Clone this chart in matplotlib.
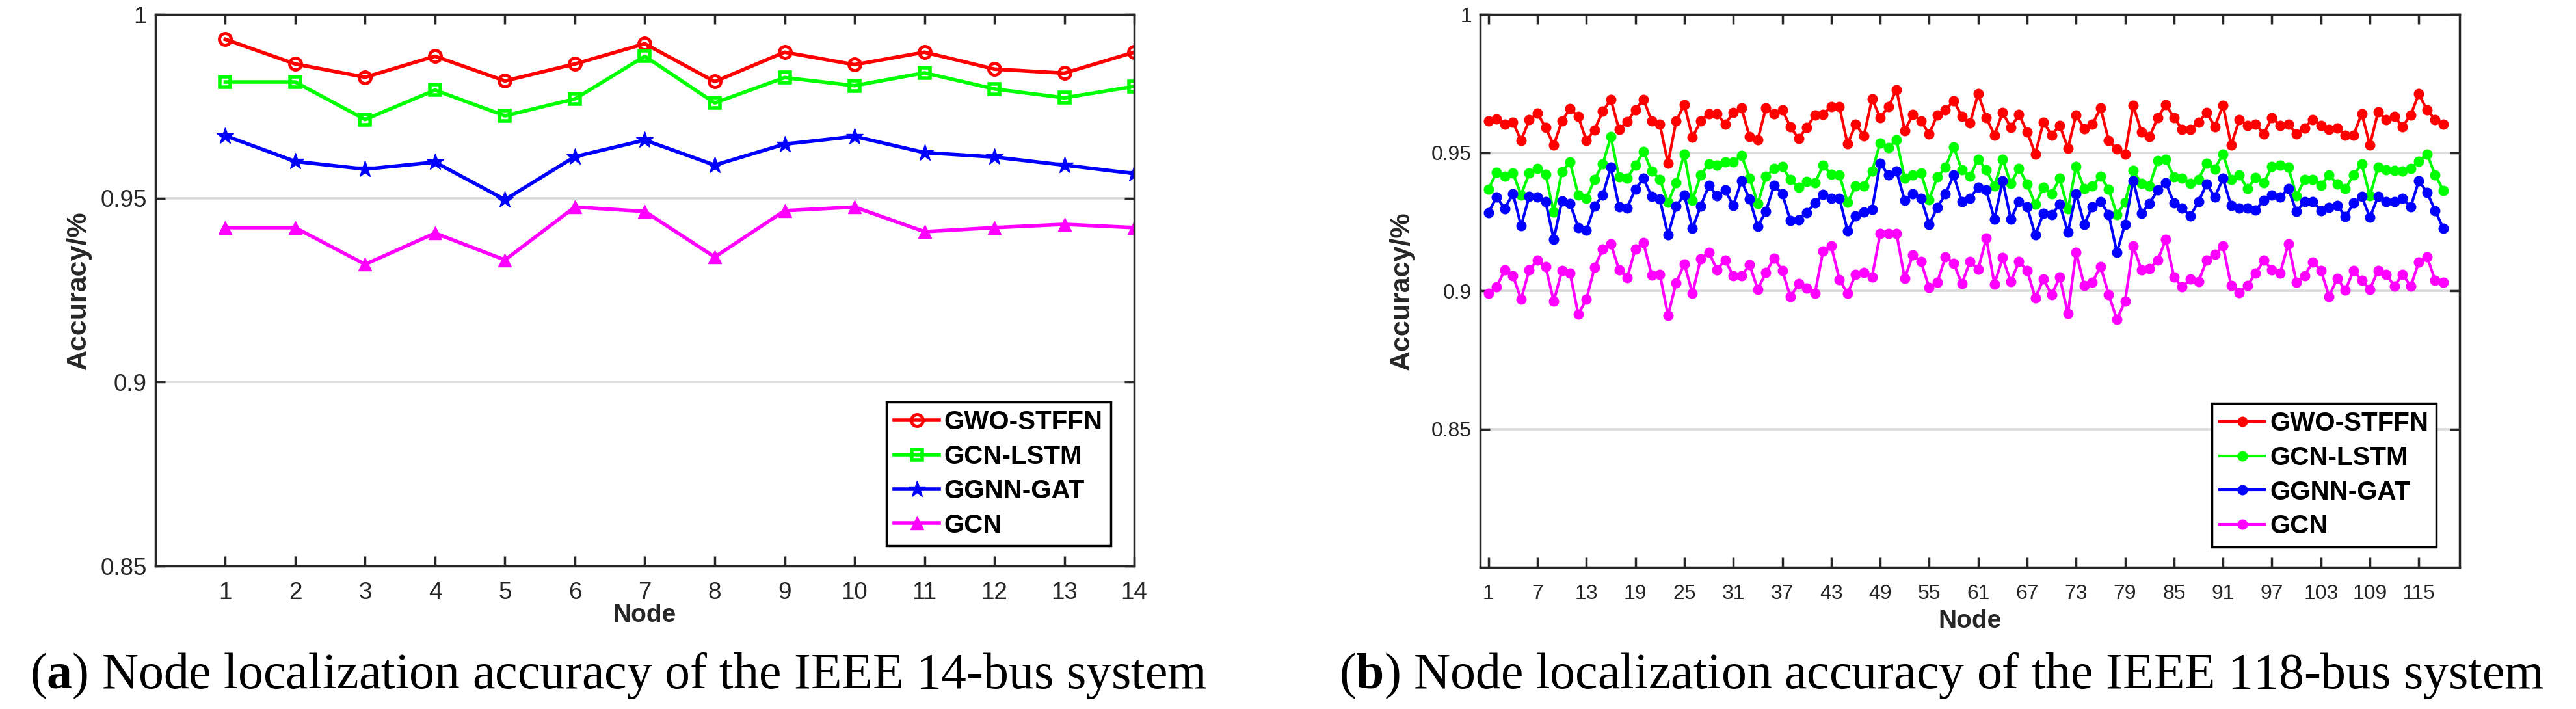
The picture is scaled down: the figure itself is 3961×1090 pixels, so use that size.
import numpy as np
import matplotlib
matplotlib.use("Agg")
import matplotlib.pyplot as plt

plt.rcParams['font.family'] = ['Liberation Sans', 'DejaVu Sans']
plt.rcParams['mathtext.fontset'] = 'custom'
plt.rcParams['mathtext.rm'] = 'Liberation Serif'
plt.rcParams['mathtext.bf'] = 'Liberation Serif:bold'

methods = ["GWO-STFFN", "GCN-LSTM", "GGNN-GAT", "GCN"]
colors = ["#ff0000", "#00ff00", "#0000ff", "#ff00ff"]

# IEEE 14-bus system
nodes14 = np.arange(1, 15)
gwo14 = [0.9932, 0.9865, 0.9829, 0.9886, 0.9819, 0.9865, 0.9920, 0.9817, 0.9897, 0.9863, 0.9897, 0.9851, 0.9840, 0.9897]
lstm14 = [0.9816, 0.9816, 0.9714, 0.9794, 0.9724, 0.9770, 0.9886, 0.9759, 0.9828, 0.9806, 0.9841, 0.9797, 0.9773, 0.9804]
ggnn14 = [0.9670, 0.9600, 0.9579, 0.9598, 0.9496, 0.9613, 0.9658, 0.9590, 0.9647, 0.9668, 0.9624, 0.9612, 0.9590, 0.9567]
gcn14 = [0.9420, 0.9420, 0.9320, 0.9405, 0.9332, 0.9476, 0.9464, 0.9340, 0.9466, 0.9476, 0.9409, 0.9420, 0.9429, 0.9420]

# IEEE 118-bus system
gwo118 = [0.9614, 0.9622, 0.9602, 0.9610, 0.9543, 0.9618, 0.9643, 0.9590, 0.9527, 0.9614,
          0.9659, 0.9630, 0.9543, 0.9582, 0.9649, 0.9692, 0.9584, 0.9611, 0.9655, 0.9692,
          0.9614, 0.9602, 0.9461, 0.9614, 0.9673, 0.9555, 0.9614, 0.9641, 0.9641, 0.9602,
          0.9645, 0.9661, 0.9557, 0.9547, 0.9661, 0.9641, 0.9655, 0.9592, 0.9551, 0.9590,
          0.9636, 0.9637, 0.9666, 0.9665, 0.9531, 0.9602, 0.9560, 0.9694, 0.9626, 0.9665,
          0.9728, 0.9579, 0.9637, 0.9614, 0.9567, 0.9636, 0.9653, 0.9688, 0.9631, 0.9606,
          0.9712, 0.9626, 0.9563, 0.9645, 0.9590, 0.9637, 0.9575, 0.9495, 0.9610, 0.9563,
          0.9598, 0.9516, 0.9636, 0.9586, 0.9602, 0.9661, 0.9543, 0.9512, 0.9495, 0.9670,
          0.9575, 0.9557, 0.9626, 0.9673, 0.9626, 0.9584, 0.9584, 0.9610, 0.9644, 0.9594,
          0.9670, 0.9527, 0.9618, 0.9597, 0.9602, 0.9568, 0.9626, 0.9597, 0.9602, 0.9568,
          0.9589, 0.9620, 0.9597, 0.9584, 0.9589, 0.9563, 0.9563, 0.9641, 0.9527, 0.9647,
          0.9620, 0.9630, 0.9594, 0.9636, 0.9712, 0.9653, 0.9620, 0.9602]
lstm118 = [0.9367, 0.9429, 0.9414, 0.9425, 0.9347, 0.9425, 0.9443, 0.9422, 0.9284, 0.9431,
           0.9465, 0.9347, 0.9333, 0.9402, 0.9458, 0.9557, 0.9411, 0.9408, 0.9453, 0.9504,
           0.9433, 0.9403, 0.9319, 0.9390, 0.9495, 0.9327, 0.9418, 0.9458, 0.9453, 0.9465,
           0.9466, 0.9490, 0.9408, 0.9316, 0.9414, 0.9443, 0.9449, 0.9402, 0.9374, 0.9396,
           0.9390, 0.9453, 0.9422, 0.9419, 0.9319, 0.9380, 0.9380, 0.9432, 0.9535, 0.9518,
           0.9545, 0.9408, 0.9418, 0.9425, 0.9330, 0.9411, 0.9447, 0.9521, 0.9437, 0.9414,
           0.9476, 0.9437, 0.9378, 0.9476, 0.9388, 0.9443, 0.9386, 0.9312, 0.9374, 0.9351,
           0.9406, 0.9296, 0.9449, 0.9369, 0.9378, 0.9414, 0.9367, 0.9276, 0.9319, 0.9435,
           0.9388, 0.9380, 0.9471, 0.9476, 0.9411, 0.9408, 0.9388, 0.9403, 0.9461, 0.9441,
           0.9495, 0.9402, 0.9419, 0.9369, 0.9410, 0.9390, 0.9449, 0.9453, 0.9447, 0.9343,
           0.9402, 0.9403, 0.9382, 0.9418, 0.9386, 0.9369, 0.9419, 0.9458, 0.9343, 0.9447,
           0.9437, 0.9435, 0.9432, 0.9443, 0.9469, 0.9495, 0.9419, 0.9363]
ggnn118 = [0.9283, 0.9339, 0.9297, 0.9351, 0.9235, 0.9341, 0.9339, 0.9323, 0.9186, 0.9325,
           0.9316, 0.9229, 0.9219, 0.9306, 0.9345, 0.9447, 0.9304, 0.9300, 0.9368, 0.9406,
           0.9341, 0.9331, 0.9202, 0.9306, 0.9347, 0.9225, 0.9306, 0.9381, 0.9343, 0.9364,
           0.9308, 0.9398, 0.9331, 0.9233, 0.9288, 0.9382, 0.9351, 0.9253, 0.9257, 0.9283,
           0.9317, 0.9348, 0.9335, 0.9335, 0.9217, 0.9270, 0.9284, 0.9294, 0.9461, 0.9419,
           0.9432, 0.9327, 0.9351, 0.9335, 0.9241, 0.9301, 0.9351, 0.9418, 0.9323, 0.9335,
           0.9374, 0.9364, 0.9259, 0.9398, 0.9259, 0.9323, 0.9304, 0.9202, 0.9280, 0.9276,
           0.9312, 0.9212, 0.9351, 0.9241, 0.9304, 0.9323, 0.9276, 0.9139, 0.9241, 0.9398,
           0.9280, 0.9316, 0.9364, 0.9390, 0.9317, 0.9298, 0.9270, 0.9323, 0.9386, 0.9339,
           0.9406, 0.9308, 0.9300, 0.9300, 0.9292, 0.9327, 0.9347, 0.9338, 0.9369, 0.9286,
           0.9323, 0.9323, 0.9290, 0.9301, 0.9309, 0.9268, 0.9317, 0.9341, 0.9265, 0.9341,
           0.9322, 0.9322, 0.9333, 0.9304, 0.9398, 0.9356, 0.9290, 0.9225]
gcn118 = [0.8990, 0.9013, 0.9076, 0.9055, 0.8969, 0.9076, 0.9110, 0.9088, 0.8962, 0.9072,
          0.9064, 0.8915, 0.8969, 0.9084, 0.9151, 0.9170, 0.9076, 0.9047, 0.9151, 0.9173,
          0.9056, 0.9060, 0.8911, 0.9029, 0.9097, 0.8990, 0.9115, 0.9139, 0.9076, 0.9111,
          0.9053, 0.9053, 0.9094, 0.9005, 0.9066, 0.9118, 0.9074, 0.8978, 0.9025, 0.9009,
          0.8990, 0.9143, 0.9162, 0.9041, 0.8990, 0.9060, 0.9066, 0.9050, 0.9206, 0.9207,
          0.9207, 0.9045, 0.9129, 0.9105, 0.9011, 0.9031, 0.9123, 0.9100, 0.9025, 0.9105,
          0.9078, 0.9190, 0.9024, 0.9119, 0.9033, 0.9105, 0.9074, 0.8974, 0.9042, 0.8986,
          0.9049, 0.8917, 0.9139, 0.9019, 0.9031, 0.9088, 0.8986, 0.8896, 0.8962, 0.9162,
          0.9076, 0.9080, 0.9110, 0.9186, 0.9049, 0.9013, 0.9042, 0.9033, 0.9110, 0.9131,
          0.9162, 0.9019, 0.8994, 0.9019, 0.9063, 0.9110, 0.9076, 0.9063, 0.9170, 0.9031,
          0.9055, 0.9104, 0.9074, 0.8980, 0.9045, 0.9002, 0.9074, 0.9037, 0.9005, 0.9074,
          0.9060, 0.9016, 0.9060, 0.9016, 0.9104, 0.9123, 0.9037, 0.9031]
nodes118 = np.arange(1, len(gwo118) + 1)

yticks = [0.85, 0.9, 0.95, 1.0]
ytick_labels = ["0.85", "0.9", "0.95", "1"]
xticks118 = np.arange(1, 116, 6)

caption_a = r"($\mathbf{a}$) Node localization accuracy of the IEEE 14-bus system"
caption_b = r"($\mathbf{b}$) Node localization accuracy of the IEEE 118-bus system"

dark = "#262626"
fig = plt.figure(figsize=(39.62, 10.90), dpi=100)
ax1 = fig.add_axes([0.0603, 0.2018, 0.3799, 0.778])
ax2 = fig.add_axes([0.5745, 0.2000, 0.3801, 0.7798])


def style_axes(ax, tick_size, pad_x):
    for sp in ax.spines.values():
        sp.set_linewidth(2.5)
        sp.set_color(dark)
    ax.tick_params(direction="in", top=True, right=True, length=11, width=2.5,
                   color=dark, labelcolor=dark, labelsize=tick_size)
    ax.tick_params(axis="x", pad=pad_x)
    ax.tick_params(axis="y", pad=9.5)
    ax.yaxis.grid(True, color="#dcdcdc", linewidth=2.7)
    ax.set_axisbelow(True)


# (a) 14-bus
ax1.plot(nodes14, gwo14, color=colors[0], lw=4, marker="o", ms=13, mfc="none", mew=3.5, label=methods[0])
ax1.plot(nodes14, lstm14, color=colors[1], lw=4, marker="s", ms=12, mfc="none", mew=4, label=methods[1])
ax1.plot(nodes14, ggnn14, color=colors[2], lw=4, marker="*", ms=19, label=methods[2])
ax1.plot(nodes14, gcn14, color=colors[3], lw=4, marker="^", ms=15, label=methods[3])
ax1.set_xlim(0, 14)
ax1.set_ylim(0.85, 1.0)
ax1.set_xticks(nodes14)
ax1.set_yticks(yticks)
ax1.set_yticklabels(ytick_labels)
style_axes(ax1, 26.5, 17)

# (b) 118-bus
series118 = [gwo118, lstm118, ggnn118, gcn118]
for vals, c, name in zip(series118, colors, methods):
    ax2.plot(nodes118, vals, color=c, lw=3, marker="o", ms=10.5, label=name)
ax2.set_xlim(0, 120)
ax2.set_ylim(0.8, 1.0)
ax2.set_xticks(xticks118)
ax2.set_yticks(yticks)
ax2.set_yticklabels(ytick_labels)
style_axes(ax2, 23, 19)

for ax, xl_y, yl_x in [(ax1, -0.0896, -0.0784), (ax2, -0.0976, -0.0797)]:
    ax.set_xlabel("Node", fontsize=28, fontweight="bold", color=dark)
    ax.xaxis.set_label_coords(0.5, xl_y)
    ax.xaxis.label.set_verticalalignment("center")
    ax.set_ylabel("Accuracy/%", fontsize=31, fontweight="bold", color=dark)
    ax.yaxis.set_label_coords(yl_x, 0.5)
    ax.yaxis.label.set_verticalalignment("center")
    leg = ax.legend(loc="lower right", bbox_to_anchor=(0.976, 0.037), borderaxespad=0,
                    prop={"weight": "bold", "size": 29}, fancybox=False, framealpha=1,
                    edgecolor="black", handlelength=1.7, handletextpad=0.2,
                    labelspacing=0.37, borderpad=0.3, numpoints=1)
    leg.get_frame().set_linewidth(2.5)

fig.text(951 / 3962, 0.0294, caption_a, ha="center", va="baseline", fontsize=56,
         family="Liberation Serif")
fig.text(2986 / 3962, 0.0294, caption_b, ha="center", va="baseline", fontsize=56,
         family="Liberation Serif")

fig.savefig("out.png", dpi=100)
